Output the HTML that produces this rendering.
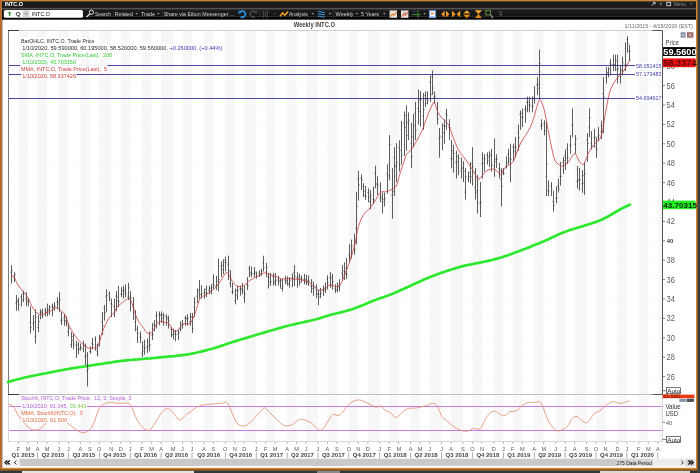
<!DOCTYPE html>
<html><head><meta charset="utf-8"><title>INTC.O Weekly</title>
<style>
html,body{margin:0;padding:0;width:700px;height:473px;overflow:hidden;background:#2f3a37;}
svg{display:block;position:absolute;left:0;top:0}
text{font-family:'Liberation Sans',Arial,sans-serif;}
</style></head><body>
<svg width="700" height="473" viewBox="0 0 700 473">
<rect x="0" y="0" width="700" height="473" fill="#2f3a37"/>
<rect x="697.3" y="0" width="0.8" height="473" fill="#6a5050"/>
<rect x="699.4" y="0" width="0.6" height="473" fill="#4a4a48"/>
<rect x="22" y="470.6" width="172" height="2.4" fill="#e8e4dc"/>
<rect x="317" y="470.6" width="23" height="2.4" fill="#8a8a8a"/>
<rect x="600" y="470.6" width="90" height="2.4" fill="#dedad0"/>
<rect x="0" y="0" width="697.3" height="470.6" fill="#d4862c"/>
<rect x="0" y="0" width="1.8" height="470.6" fill="#b66c30"/>
<rect x="0" y="469.4" width="697.3" height="1.2" fill="#6a4a2a"/>
<rect x="2" y="1.2" width="694" height="466.6" fill="#ffffff"/>
<rect x="2" y="1.2" width="0.8" height="466.6" fill="#b0b0b0"/>
<rect x="2" y="1.2" width="694" height="7" fill="#1d1d1d"/>
<defs><linearGradient id="tbg" x1="0" y1="0" x2="0" y2="1"><stop offset="0" stop-color="#1e1e1e"/><stop offset="1" stop-color="#141414"/></linearGradient></defs>
<rect x="2" y="8.2" width="694" height="0.9" fill="#353535"/>
<rect x="2" y="9.1" width="694" height="7.1" fill="url(#tbg)"/>
<rect x="2" y="16.2" width="694" height="3.5" fill="#020202"/>
<text x="4.65" y="6.33" font-size="6.2" fill="#ffffff" font-weight="bold" textLength="18.35" lengthAdjust="spacingAndGlyphs" >INTC.O</text>
<path d="M651.8 5.6 L655 2.4 M652.8 2.4 H655 V4.6" stroke="#d8d8d8" stroke-width="0.9" fill="none"/>
<path d="M660.8 2.4 v3.2 M659.6 3.8 h2.4" stroke="#8a8a8a" stroke-width="0.8" fill="none"/>
<rect x="666.8" y="2.3" width="3.8" height="3.4" fill="none" stroke="#d8d8d8" stroke-width="0.9"/>
<text x="673.70" y="5.69" font-size="5.8" fill="#8c8c8c" textLength="12.30" lengthAdjust="spacingAndGlyphs" >Menu</text>
<path d="M689.6 3.2 h2.8 l-1.4 1.4z" fill="#8c8c8c"/>
<rect x="3.9" y="9.9" width="79" height="7.9" rx="1.6" fill="#ffffff"/>
<path d="M9.6 11.2 l1.7 2.1 h-1 v2.5 h-1.4 v-2.5 h-1z" fill="#1f8a22"/>
<text x="15.40" y="16.13" font-size="6.2" fill="#444" font-weight="bold" textLength="5.20" lengthAdjust="spacingAndGlyphs" >Q</text>
<rect x="22.6" y="9.9" width="0.7" height="7.9" fill="#c8d4dc"/>
<rect x="23.3" y="10.3" width="5.4" height="7.2" fill="#d0d0d0"/>
<path d="M24.8 13.4 h2.4 l-1.2 1.2z" fill="#444"/>
<rect x="28.7" y="10.3" width="0.5" height="7.2" fill="#bbbbbb"/>
<text x="31.70" y="16.13" font-size="6.2" fill="#111" textLength="18.30" lengthAdjust="spacingAndGlyphs" >INTC.O</text>
<circle cx="91.4" cy="12.3" r="2.1" fill="none" stroke="#e0e0e0" stroke-width="1"/>
<path d="M89.8 13.9 L86.6 16.9" stroke="#e0e0e0" stroke-width="1.4"/>
<text x="94.90" y="15.76" font-size="6" fill="#d4d4d4" textLength="16.00" lengthAdjust="spacingAndGlyphs" >Search</text>
<text x="114.70" y="15.76" font-size="6" fill="#d4d4d4" textLength="18.30" lengthAdjust="spacingAndGlyphs" >Related</text>
<text x="141.00" y="15.76" font-size="6" fill="#d4d4d4" textLength="14.00" lengthAdjust="spacingAndGlyphs" >Trade</text>
<text x="163.70" y="15.76" font-size="6" fill="#d4d4d4" textLength="70.60" lengthAdjust="spacingAndGlyphs" >Share via Eikon Messenger ...</text>
<text x="289.00" y="15.76" font-size="6" fill="#d4d4d4" textLength="18.70" lengthAdjust="spacingAndGlyphs" >Analysis</text>
<text x="335.60" y="15.76" font-size="6" fill="#d4d4d4" textLength="17.80" lengthAdjust="spacingAndGlyphs" >Weekly</text>
<text x="361.00" y="15.76" font-size="6" fill="#d4d4d4" textLength="18.00" lengthAdjust="spacingAndGlyphs" >5 Years</text>
<path d="M135.5 13.2 h2.4 l-1.2 1.2z" fill="#cfcfcf"/>
<path d="M157.2 13.2 h2.4 l-1.2 1.2z" fill="#cfcfcf"/>
<path d="M311.5 13.2 h2.4 l-1.2 1.2z" fill="#cfcfcf"/>
<path d="M328.8 13.2 h2.4 l-1.2 1.2z" fill="#cfcfcf"/>
<path d="M355.7 13.2 h2.4 l-1.2 1.2z" fill="#cfcfcf"/>
<path d="M383.1 13.2 h2.4 l-1.2 1.2z" fill="#cfcfcf"/>
<path d="M423.4 13.2 h2.4 l-1.2 1.2z" fill="#cfcfcf"/>
<path d="M273.4 13.2 h2.4 l-1.2 1.2z" fill="#555"/>
<rect x="113.6" y="10.2" width="0.6" height="7.4" fill="#3a3a3a"/>
<rect x="162.2" y="10.2" width="0.6" height="7.4" fill="#3a3a3a"/>
<rect x="259.7" y="10.2" width="0.6" height="7.4" fill="#3a3a3a"/>
<rect x="333.3" y="10.2" width="0.6" height="7.4" fill="#3a3a3a"/>
<path d="M240 12.3 a3 3 0 1 1 0.6 4.2" stroke="#2a8ee0" stroke-width="1.7" fill="none"/><path d="M238.4 10.4 l0.3 3.6 l3.2 -1.4z" fill="#2a8ee0"/>
<path d="M255.6 12.3 a3 3 0 1 0 -0.6 4.2" stroke="#474747" stroke-width="1.7" fill="none"/><path d="M257.2 10.4 l-0.3 3.6 l-3.2 -1.4z" fill="#474747"/>
<path d="M264.2 11 h-0.9 v6.2 h0.9 M266.4 11 h0.9 v6.2 h-0.9 M265.3 12 v4.2" stroke="#5c5c5c" stroke-width="0.8" fill="none"/>
<path d="M280 16.2 l2.6 -3.2 l2.2 2.2 l3.4 -3.6" stroke="#f5a020" stroke-width="1.6" fill="none"/>
<path d="M318 12 q1.7 -1.3 3.4 0 t3.4 0 M318 14.3 q1.7 -1.3 3.4 0 t3.4 0 M318 16.6 q1.7 -1.3 3.4 0 t3.4 0" stroke="#40a8f0" stroke-width="1" fill="none"/>
<rect x="389.6" y="10.4" width="7.4" height="7.4" fill="#e8e2dc"/><path d="M390.4 16.6 l2 -2.6 l1.6 1.3 l2.4 -3.2" stroke="#e87a18" stroke-width="1.1" fill="none"/>
<rect x="401" y="10.4" width="7.4" height="7.4" fill="#ece0dc"/><path d="M401.8 16.6 l2 -2.6 l1.6 1.3 l2.4 -3.2" stroke="#d85a38" stroke-width="1.1" fill="none"/><path d="M403.6 11.6 l3.2 3.2" stroke="#7a7a7a" stroke-width="0.9"/>
<path d="M417.9 10.2 v7.8 M412 14.6 h8.6" stroke="#3e9a2e" stroke-width="0.9" fill="none"/><circle cx="414.2" cy="11.4" r="0.8" fill="#3a5a9a"/>
<rect x="429" y="10.3" width="7" height="7.7" fill="#f4f8ff"/><path d="M429.4 10.7 h6.2 v6.9 h-6.2z" stroke="#3a78d0" stroke-width="0.8" fill="none"/><path d="M430.6 13.6 l1.6 -1.3 v0.8 h2 v1 h-2 v0.8z" fill="#f07820"/><path d="M430.3 16.6 h4.4" stroke="#9ab4e0" stroke-width="0.8"/>
<defs><linearGradient id="og" x1="0" y1="0" x2="0" y2="1"><stop offset="0" stop-color="#ffb43c"/><stop offset="1" stop-color="#e07808"/></linearGradient></defs>
<path d="M441.2 14.2 l3.4 -3.4 v6.8z M449.4 14.2 l-3.4 -3.4 v6.8z" fill="url(#og)"/>
<path d="M452 10.8 l3.6 3.4 l-3.6 3.4z M460.2 10.8 l-3.6 3.4 l3.6 3.4z" fill="url(#og)"/>
<path d="M466.8 10.2 l3.5 3.4 h-7z M466.8 18.2 l3.5 -3.4 h-7z" fill="url(#og)"/>
<path d="M474.9 10.3 h7 l-3.5 3.9z M474.9 18 h7 l-3.5 -3.9z" fill="url(#og)"/>
<rect x="485.8" y="10.6" width="4.8" height="4.4" fill="none" stroke="#6e9a3c" stroke-width="0.9"/><path d="M490.2 14.4 l2.6 2.6 l-1.1 0.2 l0.8 1.1" stroke="#c8d0e0" stroke-width="0.8" fill="none"/>
<path d="M499.6 11.6 l1.2 1.2 l1.2 -1.2 M499.6 14 l1.2 1.2 l1.2 -1.2" stroke="#b8b8b8" stroke-width="0.7" fill="none"/>
<rect x="18.5" y="31" width="9.5" height="363" fill="#f7f7f7"/>
<rect x="18.5" y="396" width="9.5" height="45.5" fill="#f7f7f7"/>
<rect x="37.5" y="31" width="9.5" height="363" fill="#f7f7f7"/>
<rect x="37.5" y="396" width="9.5" height="45.5" fill="#f7f7f7"/>
<rect x="58.9" y="31" width="9.5" height="363" fill="#f7f7f7"/>
<rect x="58.9" y="396" width="9.5" height="45.5" fill="#f7f7f7"/>
<rect x="80.3" y="31" width="9.5" height="363" fill="#f7f7f7"/>
<rect x="80.3" y="396" width="9.5" height="45.5" fill="#f7f7f7"/>
<rect x="99.3" y="31" width="11.9" height="363" fill="#f7f7f7"/>
<rect x="99.3" y="396" width="11.9" height="45.5" fill="#f7f7f7"/>
<rect x="120.7" y="31" width="9.5" height="363" fill="#f7f7f7"/>
<rect x="120.7" y="396" width="9.5" height="45.5" fill="#f7f7f7"/>
<rect x="142.1" y="31" width="9.5" height="363" fill="#f7f7f7"/>
<rect x="142.1" y="396" width="9.5" height="45.5" fill="#f7f7f7"/>
<rect x="161.1" y="31" width="11.9" height="363" fill="#f7f7f7"/>
<rect x="161.1" y="396" width="11.9" height="45.5" fill="#f7f7f7"/>
<rect x="182.5" y="31" width="9.5" height="363" fill="#f7f7f7"/>
<rect x="182.5" y="396" width="9.5" height="45.5" fill="#f7f7f7"/>
<rect x="203.9" y="31" width="9.5" height="363" fill="#f7f7f7"/>
<rect x="203.9" y="396" width="9.5" height="45.5" fill="#f7f7f7"/>
<rect x="225.3" y="31" width="9.5" height="363" fill="#f7f7f7"/>
<rect x="225.3" y="396" width="9.5" height="45.5" fill="#f7f7f7"/>
<rect x="244.3" y="31" width="11.9" height="363" fill="#f7f7f7"/>
<rect x="244.3" y="396" width="11.9" height="45.5" fill="#f7f7f7"/>
<rect x="265.7" y="31" width="9.5" height="363" fill="#f7f7f7"/>
<rect x="265.7" y="396" width="9.5" height="45.5" fill="#f7f7f7"/>
<rect x="287.1" y="31" width="9.5" height="363" fill="#f7f7f7"/>
<rect x="287.1" y="396" width="9.5" height="45.5" fill="#f7f7f7"/>
<rect x="306.1" y="31" width="11.9" height="363" fill="#f7f7f7"/>
<rect x="306.1" y="396" width="11.9" height="45.5" fill="#f7f7f7"/>
<rect x="327.5" y="31" width="9.5" height="363" fill="#f7f7f7"/>
<rect x="327.5" y="396" width="9.5" height="45.5" fill="#f7f7f7"/>
<rect x="348.8" y="31" width="9.5" height="363" fill="#f7f7f7"/>
<rect x="348.8" y="396" width="9.5" height="45.5" fill="#f7f7f7"/>
<rect x="367.9" y="31" width="11.9" height="363" fill="#f7f7f7"/>
<rect x="367.9" y="396" width="11.9" height="45.5" fill="#f7f7f7"/>
<rect x="389.2" y="31" width="9.5" height="363" fill="#f7f7f7"/>
<rect x="389.2" y="396" width="9.5" height="45.5" fill="#f7f7f7"/>
<rect x="410.6" y="31" width="9.5" height="363" fill="#f7f7f7"/>
<rect x="410.6" y="396" width="9.5" height="45.5" fill="#f7f7f7"/>
<rect x="429.7" y="31" width="11.9" height="363" fill="#f7f7f7"/>
<rect x="429.7" y="396" width="11.9" height="45.5" fill="#f7f7f7"/>
<rect x="451.0" y="31" width="11.9" height="363" fill="#f7f7f7"/>
<rect x="451.0" y="396" width="11.9" height="45.5" fill="#f7f7f7"/>
<rect x="472.4" y="31" width="9.5" height="363" fill="#f7f7f7"/>
<rect x="472.4" y="396" width="9.5" height="45.5" fill="#f7f7f7"/>
<rect x="493.8" y="31" width="9.5" height="363" fill="#f7f7f7"/>
<rect x="493.8" y="396" width="9.5" height="45.5" fill="#f7f7f7"/>
<rect x="512.8" y="31" width="9.5" height="363" fill="#f7f7f7"/>
<rect x="512.8" y="396" width="9.5" height="45.5" fill="#f7f7f7"/>
<rect x="534.2" y="31" width="9.5" height="363" fill="#f7f7f7"/>
<rect x="534.2" y="396" width="9.5" height="45.5" fill="#f7f7f7"/>
<rect x="555.6" y="31" width="9.5" height="363" fill="#f7f7f7"/>
<rect x="555.6" y="396" width="9.5" height="45.5" fill="#f7f7f7"/>
<rect x="574.6" y="31" width="11.9" height="363" fill="#f7f7f7"/>
<rect x="574.6" y="396" width="11.9" height="45.5" fill="#f7f7f7"/>
<rect x="596.0" y="31" width="9.5" height="363" fill="#f7f7f7"/>
<rect x="596.0" y="396" width="9.5" height="45.5" fill="#f7f7f7"/>
<rect x="617.4" y="31" width="9.5" height="363" fill="#f7f7f7"/>
<rect x="617.4" y="396" width="9.5" height="45.5" fill="#f7f7f7"/>
<rect x="638.8" y="31" width="9.5" height="363" fill="#f7f7f7"/>
<rect x="638.8" y="396" width="9.5" height="45.5" fill="#f7f7f7"/>
<rect x="657.8" y="31" width="4.2" height="363" fill="#f7f7f7"/>
<rect x="657.8" y="396" width="4.2" height="45.5" fill="#f7f7f7"/>
<path d="M9 376.6 H662" stroke="#f0f0f0" stroke-width="0.6" stroke-dasharray="1 1.5"/>
<path d="M9 357.2 H662" stroke="#f0f0f0" stroke-width="0.6" stroke-dasharray="1 1.5"/>
<path d="M9 337.8 H662" stroke="#f0f0f0" stroke-width="0.6" stroke-dasharray="1 1.5"/>
<path d="M9 318.4 H662" stroke="#f0f0f0" stroke-width="0.6" stroke-dasharray="1 1.5"/>
<path d="M9 299.0 H662" stroke="#f0f0f0" stroke-width="0.6" stroke-dasharray="1 1.5"/>
<path d="M9 279.6 H662" stroke="#f0f0f0" stroke-width="0.6" stroke-dasharray="1 1.5"/>
<path d="M9 260.2 H662" stroke="#f0f0f0" stroke-width="0.6" stroke-dasharray="1 1.5"/>
<path d="M9 240.8 H662" stroke="#f0f0f0" stroke-width="0.6" stroke-dasharray="1 1.5"/>
<path d="M9 221.4 H662" stroke="#f0f0f0" stroke-width="0.6" stroke-dasharray="1 1.5"/>
<path d="M9 202.0 H662" stroke="#f0f0f0" stroke-width="0.6" stroke-dasharray="1 1.5"/>
<path d="M9 182.6 H662" stroke="#f0f0f0" stroke-width="0.6" stroke-dasharray="1 1.5"/>
<path d="M9 163.2 H662" stroke="#f0f0f0" stroke-width="0.6" stroke-dasharray="1 1.5"/>
<path d="M9 143.8 H662" stroke="#f0f0f0" stroke-width="0.6" stroke-dasharray="1 1.5"/>
<path d="M9 124.4 H662" stroke="#f0f0f0" stroke-width="0.6" stroke-dasharray="1 1.5"/>
<path d="M9 105.0 H662" stroke="#f0f0f0" stroke-width="0.6" stroke-dasharray="1 1.5"/>
<path d="M9 85.6 H662" stroke="#f0f0f0" stroke-width="0.6" stroke-dasharray="1 1.5"/>
<path d="M9 66.2 H662" stroke="#f0f0f0" stroke-width="0.6" stroke-dasharray="1 1.5"/>
<path d="M8.5 30.5 H662.5" stroke="#cfcfcf" stroke-width="1" fill="none"/><path d="M8.5 394.5 H662.5" stroke="#bdbdbd" stroke-width="1" fill="none"/>
<path d="M8.5 30 V395" stroke="#7a7a7a" stroke-width="1"/>
<path d="M8 30.5 H19 M8 394.5 H19" stroke="#3a3a3a" stroke-width="1"/>
<path d="M652.5 30.5 H662.5 V394.5 M652.5 394.5 H662.5" stroke="#555" stroke-width="1" fill="none"/>
<path d="M8.5 441.5 H662.5 M8.5 395 V442 M662.5 395 V442" stroke="#d6d6d6" stroke-width="1" fill="none"/>
<rect x="9" y="65" width="653" height="1" fill="#4848a8"/>
<rect x="9" y="74" width="653" height="1" fill="#4848a8"/>
<rect x="9" y="98" width="653" height="1" fill="#4848a8"/>
<polyline points="8.0,382.0 10.0,381.4 12.0,380.9 14.0,380.3 16.0,379.8 18.0,379.2 20.0,378.7 22.0,378.2 24.0,377.7 26.0,377.3 28.0,376.9 30.0,376.4 32.0,376.0 34.0,375.6 36.0,375.2 38.0,374.8 40.0,374.4 42.0,374.0 44.0,373.7 46.0,373.3 48.0,372.9 50.0,372.5 52.0,372.1 54.0,371.7 56.0,371.3 58.0,370.9 60.0,370.4 62.0,370.1 64.0,369.7 66.0,369.3 68.0,369.0 70.0,368.6 72.0,368.3 74.0,368.0 76.0,367.7 78.0,367.4 80.0,367.0 82.0,366.8 84.0,366.5 86.0,366.2 88.0,365.9 90.0,365.6 92.0,365.3 94.0,365.0 96.0,364.7 98.0,364.4 100.0,364.1 102.0,363.8 104.0,363.5 106.0,363.2 108.0,362.9 110.0,362.6 112.0,362.3 114.0,361.9 116.0,361.6 118.0,361.3 120.0,361.0 122.0,360.8 124.0,360.6 126.0,360.4 128.0,360.2 130.0,360.0 132.0,359.9 134.0,359.7 136.0,359.5 138.0,359.4 140.0,359.2 142.0,359.0 144.0,358.9 146.0,358.7 148.0,358.5 150.0,358.4 152.0,358.2 154.0,358.0 156.0,357.8 158.0,357.6 160.0,357.4 162.0,357.2 164.0,357.0 166.0,356.8 168.0,356.6 170.0,356.4 172.0,356.3 174.0,356.1 176.0,355.9 178.0,355.6 180.0,355.4 182.0,355.2 184.0,354.9 186.0,354.6 188.0,354.3 190.0,354.0 192.0,353.6 194.0,353.2 196.0,352.8 198.0,352.3 200.0,351.9 202.0,351.4 204.0,350.9 206.0,350.4 208.0,349.8 210.0,349.3 212.0,348.7 214.0,348.2 216.0,347.6 218.0,346.9 220.0,346.3 222.0,345.6 224.0,345.0 226.0,344.3 228.0,343.6 230.0,342.9 232.0,342.3 234.0,341.6 236.0,341.0 238.0,340.4 240.0,339.8 242.0,339.2 244.0,338.6 246.0,338.0 248.0,337.4 250.0,336.8 252.0,336.2 254.0,335.6 256.0,334.9 258.0,334.3 260.0,333.8 262.0,333.2 264.0,332.6 266.0,332.0 268.0,331.4 270.0,330.8 272.0,330.2 274.0,329.7 276.0,329.1 278.0,328.5 280.0,327.9 282.0,327.4 284.0,326.8 286.0,326.3 288.0,325.8 290.0,325.3 292.0,324.8 294.0,324.4 296.0,323.9 298.0,323.4 300.0,323.0 302.0,322.5 304.0,322.1 306.0,321.6 308.0,321.1 310.0,320.7 312.0,320.2 314.0,319.8 316.0,319.3 318.0,318.7 320.0,318.1 322.0,317.5 324.0,316.8 326.0,316.2 328.0,315.6 330.0,315.0 332.0,314.5 334.0,314.0 336.0,313.5 338.0,313.0 340.0,312.6 342.0,312.1 344.0,311.5 346.0,311.0 348.0,310.4 350.0,309.9 352.0,309.2 354.0,308.6 356.0,307.8 358.0,307.1 360.0,306.3 362.0,305.5 364.0,304.7 366.0,303.8 368.0,302.9 370.0,302.1 372.0,301.3 374.0,300.5 376.0,299.8 378.0,299.0 380.0,298.3 382.0,297.6 384.0,297.0 386.0,296.2 388.0,295.5 390.0,294.7 392.0,294.0 394.0,293.2 396.0,292.3 398.0,291.4 400.0,290.5 402.0,289.6 404.0,288.7 406.0,287.8 408.0,286.9 410.0,286.0 412.0,285.0 414.0,284.1 416.0,283.2 418.0,282.3 420.0,281.4 422.0,280.5 424.0,279.6 426.0,278.7 428.0,277.9 430.0,277.0 432.0,276.2 434.0,275.5 436.0,274.7 438.0,274.0 440.0,273.3 442.0,272.6 444.0,272.0 446.0,271.3 448.0,270.6 450.0,270.0 452.0,269.3 454.0,268.7 456.0,268.1 458.0,267.5 460.0,266.9 462.0,266.4 464.0,265.9 466.0,265.4 468.0,265.0 470.0,264.6 472.0,264.2 474.0,263.8 476.0,263.4 478.0,263.0 480.0,262.6 482.0,262.2 484.0,261.8 486.0,261.3 488.0,260.9 490.0,260.4 492.0,260.0 494.0,259.4 496.0,258.9 498.0,258.4 500.0,257.8 502.0,257.2 504.0,256.5 506.0,255.9 508.0,255.2 510.0,254.5 512.0,253.8 514.0,253.1 516.0,252.3 518.0,251.6 520.0,250.8 522.0,250.0 524.0,249.2 526.0,248.5 528.0,247.7 530.0,246.9 532.0,246.1 534.0,245.3 536.0,244.5 538.0,243.7 540.0,242.8 542.0,242.0 544.0,241.2 546.0,240.3 548.0,239.4 550.0,238.5 552.0,237.5 554.0,236.6 556.0,235.6 558.0,234.7 560.0,233.8 562.0,233.0 564.0,232.2 566.0,231.4 568.0,230.7 570.0,230.0 572.0,229.4 574.0,228.8 576.0,228.2 578.0,227.6 580.0,227.0 582.0,226.4 584.0,225.8 586.0,225.1 588.0,224.5 590.0,223.9 592.0,223.2 594.0,222.6 596.0,221.9 598.0,221.1 600.0,220.3 602.0,219.5 604.0,218.5 606.0,217.5 608.0,216.5 610.0,215.3 612.0,214.2 614.0,213.0 616.0,211.8 618.0,210.7 620.0,209.5 622.0,208.4 624.0,207.4 626.0,206.5 628.0,205.6 630.0,204.7 630.0,204.7" fill="none" stroke="#2ee82e" stroke-width="2.7" stroke-linejoin="round" stroke-linecap="round"/>
<path d="M11.5 265.0V283.6M10.5 272.3h1M11.5 270.4h1M14.5 272.1V282.1M13.5 278.0h1M14.5 274.6h1M16.5 295.0V310.7M15.5 303.2h1M16.5 301.6h1M18.5 297.9V310.7M17.5 300.9h1M18.5 304.3h1M21.5 294.2V306.4M20.5 296.9h1M21.5 299.8h1M23.5 290.7V302.1M22.5 293.5h1M23.5 293.6h1M26.5 292.1V306.4M25.5 298.6h1M26.5 302.1h1M28.5 297.9V306.4M27.5 300.2h1M28.5 300.7h1M30.5 306.4V333.6M29.5 322.1h1M30.5 327.3h1M33.5 315.0V330.7M32.5 323.6h1M33.5 321.9h1M35.5 309.3V343.6M34.5 336.2h1M35.5 317.1h1M38.5 315.0V332.1M37.5 327.3h1M38.5 321.4h1M40.5 309.3V319.3M39.5 312.2h1M40.5 312.0h1M42.5 308.6V317.9M41.5 312.2h1M42.5 315.0h1M45.5 307.9V316.4M44.5 310.5h1M45.5 312.6h1M47.5 303.6V316.4M46.5 311.1h1M47.5 309.0h1M49.5 305.0V315.0M48.5 310.3h1M49.5 307.4h1M52.5 303.6V316.4M51.5 306.6h1M52.5 307.7h1M54.5 302.1V310.7M53.5 307.4h1M54.5 306.1h1M57.5 297.3V309.3M56.5 302.0h1M57.5 303.9h1M59.5 292.1V312.1M58.5 301.6h1M59.5 299.7h1M61.5 312.1V325.0M60.5 320.8h1M61.5 320.1h1M64.5 314.2V325.7M63.5 318.2h1M64.5 320.5h1M66.5 316.4V326.4M65.5 321.6h1M66.5 323.7h1M68.5 323.6V336.4M67.5 331.8h1M68.5 328.4h1M71.5 332.1V347.9M70.5 344.5h1M71.5 336.4h1M73.5 333.6V349.3M72.5 340.7h1M73.5 343.9h1M76.5 340.7V357.9M75.5 345.7h1M76.5 349.2h1M78.5 342.1V354.5M77.5 344.8h1M78.5 349.5h1M80.5 343.6V350.7M79.5 348.3h1M80.5 347.5h1M83.5 340.7V352.1M82.5 349.0h1M83.5 345.2h1M85.5 343.6V365.0M84.5 356.8h1M85.5 355.5h1M87.5 352.1V386.4M86.5 370.9h1M87.5 368.4h1M90.5 346.4V353.6M89.5 351.5h1M90.5 351.9h1M92.5 337.9V349.3M91.5 343.4h1M92.5 344.7h1M95.5 336.4V350.7M94.5 339.8h1M95.5 345.3h1M97.5 343.6V356.4M96.5 351.1h1M97.5 353.8h1M99.5 335.0V346.4M98.5 342.9h1M99.5 339.2h1M102.5 312.1V335.0M101.5 322.0h1M102.5 325.9h1M104.5 305.0V320.7M103.5 308.4h1M104.5 312.5h1M106.5 289.3V312.1M105.5 296.2h1M106.5 295.5h1M109.5 291.4V301.4M108.5 293.8h1M109.5 298.0h1M111.5 298.6V317.1M110.5 303.7h1M111.5 305.0h1M114.5 298.6V317.1M113.5 306.6h1M114.5 312.0h1M116.5 291.1V311.4M115.5 296.1h1M116.5 300.6h1M118.5 285.7V307.1M117.5 297.1h1M118.5 301.4h1M121.5 287.1V297.1M120.5 294.1h1M121.5 294.3h1M123.5 285.7V298.6M122.5 290.4h1M123.5 291.5h1M125.5 284.3V297.1M124.5 289.6h1M125.5 293.7h1M128.5 282.9V300.0M127.5 296.1h1M128.5 287.8h1M130.5 291.0V311.4M129.5 297.2h1M130.5 297.9h1M133.5 297.1V320.0M132.5 304.9h1M133.5 308.4h1M135.5 310.0V331.4M134.5 321.9h1M135.5 317.7h1M137.5 325.7V342.9M136.5 329.2h1M137.5 333.5h1M140.5 331.4V342.9M139.5 336.2h1M140.5 337.6h1M142.5 341.4V357.1M141.5 353.6h1M142.5 351.1h1M144.5 339.8V354.7M143.5 347.4h1M144.5 348.3h1M147.5 338.6V352.9M146.5 347.2h1M147.5 341.9h1M149.5 331.4V351.4M148.5 346.2h1M149.5 344.8h1M152.5 322.9V340.0M151.5 335.3h1M152.5 334.5h1M154.5 320.0V331.4M153.5 325.0h1M154.5 325.0h1M156.5 311.4V328.6M155.5 315.9h1M156.5 321.4h1M159.5 311.4V325.4M158.5 314.7h1M159.5 314.8h1M161.5 311.4V322.9M160.5 315.1h1M161.5 314.8h1M163.5 312.9V325.7M162.5 318.1h1M163.5 315.8h1M166.5 314.3V325.7M165.5 316.6h1M166.5 317.6h1M168.5 315.7V328.6M167.5 319.1h1M168.5 321.1h1M171.5 327.1V337.1M170.5 329.3h1M171.5 334.4h1M173.5 328.7V339.5M172.5 334.8h1M173.5 331.8h1M175.5 330.0V341.4M174.5 334.0h1M175.5 334.7h1M178.5 330.0V340.0M177.5 334.2h1M178.5 332.7h1M180.5 321.4V331.4M179.5 328.5h1M180.5 329.4h1M182.5 320.0V328.6M181.5 324.1h1M182.5 324.2h1M185.5 315.7V325.7M184.5 318.2h1M185.5 318.3h1M187.5 314.2V325.7M186.5 318.9h1M187.5 318.3h1M190.5 312.9V325.7M189.5 321.8h1M190.5 316.7h1M192.5 312.9V332.9M191.5 317.1h1M192.5 328.3h1M194.5 297.1V317.1M193.5 307.5h1M194.5 302.9h1M197.5 288.6V302.9M196.5 296.1h1M197.5 291.7h1M199.5 280.0V298.6M198.5 289.6h1M199.5 294.6h1M201.5 285.2V298.6M200.5 294.8h1M201.5 293.4h1M204.5 288.6V298.6M203.5 292.1h1M204.5 292.8h1M206.5 285.7V297.1M205.5 289.1h1M206.5 293.3h1M209.5 285.7V294.3M208.5 290.2h1M209.5 291.4h1M211.5 284.3V294.3M210.5 288.3h1M211.5 287.6h1M213.5 274.3V288.6M212.5 284.1h1M213.5 285.6h1M216.5 275.8V290.0M215.5 285.9h1M216.5 285.5h1M218.5 258.6V291.4M217.5 281.3h1M218.5 279.7h1M221.5 261.4V277.1M220.5 266.7h1M221.5 269.5h1M223.5 259.2V274.2M222.5 265.4h1M223.5 262.5h1M225.5 257.1V271.4M224.5 260.2h1M225.5 262.4h1M228.5 255.7V280.0M227.5 264.3h1M228.5 270.7h1M230.5 270.2V287.2M229.5 283.4h1M230.5 278.2h1M232.5 282.9V294.3M231.5 291.6h1M232.5 291.9h1M235.5 288.6V304.3M234.5 300.7h1M235.5 295.2h1M237.5 285.7V300.0M236.5 290.5h1M237.5 290.5h1M240.5 285.7V295.7M239.5 288.9h1M240.5 288.9h1M242.5 282.9V294.3M241.5 289.4h1M242.5 291.3h1M244.5 285.7V302.9M243.5 297.8h1M244.5 294.1h1M247.5 277.1V290.0M246.5 284.8h1M247.5 285.9h1M249.5 265.7V277.1M248.5 268.6h1M249.5 272.5h1M251.5 266.4V277.1M250.5 274.4h1M251.5 273.6h1M254.5 267.1V277.1M253.5 273.6h1M254.5 272.0h1M256.5 271.4V278.6M255.5 273.6h1M256.5 276.2h1M259.5 270.0V277.1M258.5 272.9h1M259.5 274.9h1M261.5 268.6V275.7M260.5 274.2h1M261.5 271.7h1M263.5 255.7V271.4M262.5 262.6h1M263.5 267.8h1M266.5 262.9V277.1M265.5 271.9h1M266.5 267.2h1M268.5 272.9V288.6M267.5 277.2h1M268.5 277.4h1M270.5 272.9V285.7M269.5 282.4h1M270.5 281.7h1M273.5 272.9V285.7M272.5 276.6h1M273.5 281.8h1M275.5 272.9V285.7M274.5 283.0h1M275.5 280.5h1M278.5 275.7V285.7M277.5 279.8h1M278.5 281.0h1M280.5 278.6V288.6M279.5 281.4h1M280.5 280.7h1M282.5 278.6V291.4M281.5 288.6h1M282.5 286.2h1M285.5 275.7V284.3M284.5 280.1h1M285.5 282.2h1M287.5 276.4V285.6M286.5 280.6h1M287.5 283.1h1M289.5 277.1V287.8M288.5 284.5h1M289.5 280.6h1M292.5 273.4V287.2M291.5 278.2h1M292.5 278.6h1M294.5 265.1V286.0M293.5 272.3h1M294.5 276.7h1M297.5 272.1V287.8M296.5 277.7h1M297.5 279.2h1M299.5 273.6V285.5M298.5 276.9h1M299.5 282.5h1M301.5 275.6V282.5M300.5 278.4h1M301.5 278.9h1M304.5 273.8V284.3M303.5 279.6h1M304.5 281.6h1M306.5 274.7V285.1M305.5 279.4h1M306.5 282.5h1M308.5 275.6V286.0M307.5 280.8h1M308.5 281.0h1M311.5 279.1V293.0M310.5 286.2h1M311.5 282.0h1M313.5 281.8V295.8M312.5 288.3h1M313.5 286.1h1M316.5 284.3V298.2M315.5 287.1h1M316.5 293.8h1M318.5 289.5V305.2M317.5 294.3h1M318.5 297.1h1M320.5 287.8V298.2M319.5 294.4h1M320.5 293.4h1M323.5 285.4V295.9M322.5 289.5h1M323.5 290.7h1M325.5 282.5V293.0M324.5 288.1h1M325.5 289.6h1M327.5 275.4V289.4M326.5 279.1h1M327.5 282.9h1M330.5 272.1V287.8M329.5 277.6h1M330.5 277.8h1M332.5 273.8V289.5M331.5 284.2h1M332.5 281.7h1M335.5 284.3V293.0M334.5 289.0h1M335.5 290.0h1M337.5 282.5V292.4M336.5 289.9h1M337.5 287.1h1M339.5 279.1V291.3M338.5 286.0h1M339.5 285.2h1M342.5 265.1V280.8M341.5 273.1h1M342.5 274.8h1M344.5 262.3V280.1M343.5 270.7h1M344.5 271.6h1M346.5 258.1V279.1M345.5 268.3h1M346.5 274.1h1M349.5 244.2V261.6M348.5 255.0h1M349.5 256.8h1M351.5 239.6V258.5M350.5 254.1h1M351.5 246.3h1M354.5 233.7V254.6M353.5 244.9h1M354.5 249.7h1M356.5 191.9V244.2M355.5 228.7h1M356.5 206.6h1M358.5 170.9V200.6M357.5 179.0h1M358.5 184.7h1M361.5 174.4V190.1M360.5 178.2h1M361.5 179.8h1M363.5 183.1V197.1M362.5 186.5h1M363.5 191.5h1M365.5 185.9V199.9M364.5 195.3h1M365.5 196.2h1M368.5 188.4V202.3M367.5 192.5h1M368.5 197.2h1M370.5 190.1V209.3M369.5 201.5h1M370.5 195.6h1M373.5 186.6V204.1M372.5 199.3h1M373.5 200.2h1M375.5 165.7V188.4M374.5 173.2h1M375.5 183.2h1M377.5 176.2V195.3M376.5 184.6h1M377.5 185.6h1M380.5 182.3V202.2M379.5 198.1h1M380.5 196.2h1M382.5 192.5V213.5M381.5 198.8h1M382.5 202.1h1M384.5 192.5V206.5M383.5 199.6h1M384.5 198.2h1M387.5 164.4V193.7M386.5 173.7h1M387.5 175.8h1M389.5 135.0V180.3M388.5 163.7h1M389.5 144.6h1M392.5 168.1V218.7M391.5 195.1h1M392.5 191.6h1M394.5 147.2V196.0M393.5 157.5h1M394.5 166.7h1M396.5 143.2V182.1M395.5 165.5h1M396.5 162.9h1M399.5 140.2V171.6M398.5 147.7h1M399.5 165.1h1M401.5 121.0V164.6M400.5 150.4h1M401.5 155.2h1M404.5 111.4V156.0M403.5 123.1h1M404.5 127.4h1M406.5 105.3V150.7M405.5 115.5h1M406.5 135.6h1M408.5 112.3V140.2M407.5 122.4h1M408.5 120.1h1M411.5 122.8V168.1M410.5 143.3h1M411.5 156.6h1M413.5 114.1V147.2M412.5 137.0h1M413.5 125.8h1M415.5 101.9V140.2M414.5 113.0h1M415.5 130.7h1M418.5 89.6V124.5M417.5 108.6h1M418.5 111.3h1M420.5 91.0V126.6M419.5 100.0h1M420.5 99.4h1M423.5 93.1V129.8M422.5 115.6h1M423.5 109.8h1M425.5 91.4V107.1M424.5 95.2h1M425.5 103.4h1M427.5 91.4V104.2M426.5 98.8h1M427.5 100.1h1M430.5 75.7V101.9M429.5 82.2h1M430.5 94.4h1M432.5 70.5V94.9M431.5 76.3h1M432.5 88.0h1M434.5 91.4V103.6M433.5 97.2h1M434.5 96.3h1M437.5 101.9V124.5M436.5 113.9h1M437.5 119.0h1M439.5 128.0V157.7M438.5 138.7h1M439.5 136.2h1M442.5 123.4V150.3M441.5 137.3h1M442.5 132.6h1M444.5 119.3V143.7M443.5 125.8h1M444.5 126.5h1M446.5 108.8V129.8M445.5 113.6h1M446.5 115.6h1M449.5 119.3V140.2M448.5 127.4h1M449.5 127.3h1M451.5 140.2V168.1M450.5 158.5h1M451.5 150.7h1M453.5 144.8V172.7M452.5 158.8h1M453.5 153.4h1M456.5 150.7V178.6M455.5 162.1h1M456.5 156.6h1M458.5 154.2V175.1M457.5 161.5h1M458.5 158.6h1M461.5 157.6V178.5M460.5 171.0h1M461.5 168.7h1M463.5 161.2V182.1M462.5 167.7h1M463.5 171.3h1M465.5 168.1V199.5M464.5 192.0h1M465.5 176.4h1M468.5 171.6V182.1M467.5 178.8h1M468.5 176.4h1M470.5 161.8V183.5M469.5 172.6h1M470.5 177.0h1M472.5 147.2V185.6M471.5 163.9h1M472.5 166.5h1M475.5 168.1V199.5M474.5 187.4h1M475.5 192.9h1M477.5 175.1V213.5M476.5 190.7h1M477.5 201.9h1M480.5 182.1V217.0M479.5 203.8h1M480.5 202.4h1M482.5 152.4V178.6M481.5 164.0h1M482.5 163.1h1M484.5 154.2V171.6M483.5 158.2h1M484.5 159.0h1M487.5 152.4V164.6M486.5 155.4h1M487.5 160.3h1M489.5 151.2V167.0M488.5 156.8h1M489.5 155.9h1M491.5 148.9V171.6M490.5 154.6h1M491.5 164.9h1M494.5 138.5V176.8M493.5 166.2h1M494.5 161.6h1M496.5 154.2V168.1M495.5 159.3h1M496.5 159.0h1M499.5 162.9V178.6M498.5 168.8h1M499.5 170.4h1M501.5 168.1V206.5M500.5 179.4h1M501.5 186.1h1M503.5 168.1V175.1M502.5 170.6h1M503.5 173.5h1M506.5 156.3V168.6M505.5 166.0h1M506.5 162.8h1M508.5 148.9V164.6M507.5 154.4h1M508.5 161.2h1M510.5 143.7V182.1M509.5 158.5h1M510.5 159.6h1M513.5 143.7V161.2M512.5 147.2h1M513.5 151.2h1M515.5 137.1V157.5M514.5 147.0h1M515.5 147.4h1M518.5 124.5V150.7M517.5 132.9h1M518.5 137.7h1M520.5 110.6V129.8M519.5 114.5h1M520.5 117.5h1M522.5 108.5V127.0M521.5 113.2h1M522.5 116.7h1M525.5 105.3V122.8M524.5 109.3h1M525.5 109.1h1M527.5 96.6V112.3M526.5 102.6h1M527.5 102.0h1M529.5 96.6V112.3M528.5 105.3h1M529.5 104.7h1M532.5 96.6V112.3M531.5 106.8h1M532.5 106.0h1M534.5 86.2V103.6M533.5 97.1h1M534.5 98.8h1M537.5 77.4V94.9M536.5 85.0h1M537.5 84.3h1M539.5 49.5V98.4M538.5 88.2h1M539.5 63.7h1M541.5 119.3V129.8M540.5 125.9h1M541.5 125.4h1M544.5 120.2V135.3M543.5 123.6h1M544.5 130.8h1M546.5 121.0V196.0M545.5 176.2h1M546.5 164.3h1M548.5 180.3V196.0M547.5 190.4h1M548.5 191.1h1M551.5 182.1V196.0M550.5 186.0h1M551.5 189.3h1M553.5 190.8V211.7M552.5 201.3h1M553.5 205.5h1M556.5 186.4V203.3M555.5 197.9h1M556.5 198.1h1M558.5 178.6V192.5M557.5 186.3h1M558.5 188.9h1M560.5 161.9V185.6M559.5 176.3h1M560.5 176.5h1M563.5 156.8V173.8M562.5 162.5h1M563.5 160.5h1M565.5 149.5V170.1M564.5 155.3h1M565.5 158.1h1M567.5 143.4V164.0M566.5 148.8h1M567.5 157.8h1M570.5 135.1V153.7M569.5 145.0h1M570.5 145.8h1M572.5 108.3V137.2M571.5 124.9h1M572.5 125.9h1M575.5 135.1V153.7M574.5 144.3h1M575.5 138.9h1M577.5 166.0V188.7M576.5 181.4h1M577.5 180.7h1M579.5 168.0V190.6M578.5 179.3h1M579.5 179.8h1M582.5 170.1V192.8M581.5 183.7h1M582.5 175.6h1M584.5 161.9V194.9M583.5 183.1h1M584.5 173.5h1M587.5 133.1V161.9M586.5 140.1h1M587.5 143.4h1M589.5 108.3V137.2M588.5 126.7h1M589.5 117.6h1M591.5 131.0V149.5M590.5 142.9h1M591.5 145.6h1M594.5 128.9V147.5M593.5 138.1h1M594.5 136.9h1M596.5 137.2V157.8M595.5 147.2h1M596.5 149.7h1M598.5 126.9V141.3M597.5 136.4h1M598.5 135.1h1M601.5 120.7V139.2M600.5 131.5h1M601.5 125.3h1M603.5 77.4V133.1M602.5 93.5h1M603.5 97.0h1M606.5 67.1V83.6M605.5 77.7h1M606.5 73.4h1M608.5 67.1V77.4M607.5 72.7h1M608.5 69.2h1M610.5 58.9V75.3M609.5 62.8h1M610.5 64.8h1M613.5 54.7V71.2M612.5 64.7h1M613.5 64.9h1M615.5 54.7V71.2M614.5 64.7h1M615.5 60.9h1M617.5 54.7V83.6M616.5 69.4h1M617.5 68.5h1M620.5 65.0V83.6M619.5 73.9h1M620.5 70.1h1M622.5 56.8V75.3M621.5 70.4h1M622.5 62.7h1M625.5 42.4V71.2M624.5 65.1h1M625.5 64.3h1M627.5 36.2V52.7M626.5 39.7h1M627.5 44.0h1M629.5 44.9V61.2M628.5 50.8h1M629.5 51.1h1" stroke="#333" stroke-width="0.8" fill="none"/>
<path d="M10.9 276.4C11.4 276.4 12.5 275.0 13.7 276.4C14.9 277.8 16.3 282.4 18.0 285.0C19.7 287.6 22.0 290.0 23.7 292.1C25.4 294.2 26.3 295.0 28.0 297.9C29.7 300.8 31.8 306.6 33.7 309.3C35.6 312.1 37.5 313.7 39.4 314.4C41.3 315.1 43.2 314.2 45.1 313.6C47.0 313.0 49.0 311.6 50.9 310.7C52.8 309.8 54.9 307.9 56.6 307.9C58.3 307.9 59.5 309.5 60.9 310.7C62.3 311.9 63.7 312.4 65.1 315.0C66.5 317.6 67.5 322.6 69.4 326.4C71.3 330.2 74.4 335.0 76.6 337.9C78.8 340.8 80.4 341.9 82.3 343.6C84.2 345.3 86.1 347.2 88.0 347.9C89.9 348.6 92.0 348.1 93.7 347.9C95.4 347.6 96.6 349.0 98.0 346.4C99.4 343.8 100.5 336.7 102.3 332.1C104.1 327.5 106.8 321.6 108.6 318.6C110.4 315.6 111.5 316.2 112.9 314.3C114.3 312.4 115.7 308.9 117.1 307.1C118.5 305.3 120.0 304.6 121.4 303.4C122.8 302.2 124.5 300.8 125.7 300.0C126.9 299.2 127.6 298.4 128.6 298.6C129.5 298.8 130.4 299.3 131.4 301.4C132.4 303.5 133.1 308.1 134.3 311.4C135.5 314.7 137.2 318.8 138.6 321.4C140.0 324.0 141.5 325.2 142.9 327.1C144.3 329.0 145.7 331.9 147.1 332.9C148.5 333.9 150.0 334.1 151.4 332.9C152.8 331.7 154.3 327.6 155.7 325.7C157.1 323.8 158.6 322.0 160.0 321.4C161.4 320.8 162.9 322.0 164.3 322.3C165.7 322.6 167.2 322.1 168.6 323.4C170.0 324.7 171.5 328.8 172.9 330.0C174.3 331.2 175.7 331.6 177.1 330.9C178.5 330.2 180.0 326.9 181.4 325.7C182.8 324.4 184.3 323.8 185.7 323.4C187.1 323.0 188.6 324.7 190.0 323.4C191.4 322.1 192.6 319.8 194.3 315.7C196.0 311.6 198.3 301.9 200.0 298.6C201.7 295.3 202.9 296.6 204.3 295.7C205.7 294.8 207.2 293.8 208.6 292.9C210.0 291.9 211.5 291.2 212.9 290.0C214.3 288.8 215.7 287.4 217.1 285.7C218.5 284.0 220.0 282.1 221.4 280.0C222.8 277.9 224.5 273.8 225.7 272.9C226.9 271.9 227.6 273.1 228.6 274.3C229.6 275.5 230.2 278.2 231.4 280.0C232.6 281.8 234.3 284.0 235.7 285.1C237.1 286.2 238.6 286.6 240.0 286.6C241.4 286.6 242.9 286.0 244.3 285.1C245.7 284.2 247.2 282.5 248.6 281.4C250.0 280.3 251.2 279.6 252.9 278.6C254.6 277.7 256.7 276.6 258.6 275.7C260.5 274.8 262.6 273.1 264.3 272.9C266.0 272.7 267.2 273.8 268.6 274.3C270.0 274.8 271.5 275.2 272.9 275.7C274.3 276.2 275.7 276.5 277.1 277.1C278.5 277.7 280.0 278.9 281.4 279.1C282.8 279.4 283.6 278.6 285.7 278.6C287.8 278.6 291.4 278.9 293.9 279.1C296.4 279.3 298.6 279.4 300.9 279.8C303.2 280.2 305.9 280.8 307.9 281.8C309.9 282.8 311.4 284.6 313.1 286.0C314.8 287.4 316.6 289.6 318.3 290.2C320.1 290.8 321.9 290.3 323.6 289.5C325.4 288.7 327.1 285.9 328.8 285.3C330.5 284.7 332.3 285.9 334.0 286.0C335.7 286.1 337.4 287.7 339.2 286.0C340.9 284.3 342.8 279.7 344.5 275.6C346.2 271.5 348.0 266.8 349.7 261.6C351.4 256.4 353.4 250.0 354.9 244.2C356.3 238.4 356.9 231.6 358.4 226.7C359.8 221.8 361.9 217.4 363.6 214.5C365.4 211.6 367.1 211.3 368.9 209.3C370.6 207.3 372.2 205.1 374.1 202.3C376.0 199.5 378.6 194.2 380.5 192.5C382.4 190.8 384.0 192.2 385.7 191.8C387.4 191.4 389.2 190.7 390.9 189.8C392.6 188.9 394.7 188.8 396.1 186.3C397.6 183.9 398.3 179.3 399.6 175.1C400.9 170.9 402.9 164.7 404.1 161.2C405.3 157.7 405.3 156.2 406.6 154.2C407.9 152.1 410.1 151.2 411.8 148.9C413.5 146.6 415.2 143.4 417.0 140.2C418.8 137.0 420.6 133.9 422.3 129.8C424.1 125.7 425.9 119.9 427.5 115.8C429.1 111.7 430.8 107.5 432.0 105.3C433.2 103.1 433.5 101.4 434.5 102.6C435.5 103.8 436.4 109.5 437.9 112.3C439.3 115.1 441.4 117.3 443.2 119.3C444.9 121.3 446.7 121.3 448.4 124.5C450.1 127.7 451.9 134.1 453.6 138.5C455.4 142.9 457.1 147.5 458.9 150.7C460.6 153.9 462.2 155.1 464.1 157.7C466.0 160.2 468.4 163.6 470.0 166.0C471.6 168.4 472.7 169.8 474.0 172.0C475.3 174.2 476.7 178.3 478.0 179.0C479.3 179.7 480.7 177.3 482.0 176.0C483.3 174.7 484.7 172.3 486.0 171.2C487.3 170.1 488.7 169.8 490.0 169.5C491.3 169.2 492.7 168.8 494.0 169.2C495.3 169.6 496.8 171.1 498.0 172.0C499.2 172.9 500.0 175.3 501.2 174.6C502.4 173.8 503.5 169.2 505.0 167.5C506.5 165.8 508.7 165.4 510.1 164.3C511.5 163.2 512.3 163.0 513.4 161.0C514.5 159.0 515.7 155.3 516.8 152.5C517.9 149.7 518.8 146.9 520.2 144.1C521.6 141.3 523.6 138.4 525.3 135.6C527.0 132.8 529.0 129.7 530.3 127.2C531.6 124.7 532.0 122.9 532.9 120.4C533.8 117.9 534.6 114.8 535.4 112.0C536.2 109.2 537.2 105.6 537.9 103.5C538.6 101.4 539.0 99.6 539.6 99.3C540.2 99.0 540.6 100.2 541.3 101.8C542.0 103.3 543.0 105.5 543.9 108.6C544.8 111.7 545.6 116.2 546.4 120.4C547.2 124.6 547.9 128.8 548.9 133.9C549.9 139.0 551.3 146.4 552.3 150.8C553.3 155.2 554.0 158.3 555.0 160.5C556.0 162.7 557.0 163.1 558.2 164.0C559.4 164.9 560.7 166.3 562.4 166.0C564.1 165.7 566.5 164.0 568.5 161.9C570.5 159.8 572.8 153.7 574.7 153.7C576.6 153.7 578.2 160.2 579.7 161.9C581.2 163.6 582.2 165.7 583.8 164.0C585.4 162.3 587.3 155.0 589.2 151.6C591.1 148.2 593.2 146.2 595.3 143.4C597.3 140.7 599.8 140.3 601.5 135.1C603.2 129.9 604.2 119.6 605.6 112.4C607.0 105.2 608.1 97.3 609.8 91.8C611.5 86.3 614.0 82.6 616.0 79.5C618.0 76.4 620.1 76.0 622.1 73.3C624.1 70.5 626.9 65.4 628.3 63.0C629.7 60.6 630.0 59.6 630.4 58.9" fill="none" stroke="#c83c3c" stroke-width="0.8"/>
<rect x="635" y="62.7" width="27" height="6" fill="#ffffff"/>
<text x="636.00" y="67.72" font-size="5.6" fill="#3c3cac" textLength="25.60" lengthAdjust="spacingAndGlyphs" >58.051415</text>
<rect x="635" y="71.2" width="27" height="6" fill="#ffffff"/>
<text x="636.00" y="76.23" font-size="5.6" fill="#3c3cac" textLength="25.60" lengthAdjust="spacingAndGlyphs" >57.173483</text>
<rect x="635" y="95.3" width="27" height="6" fill="#ffffff"/>
<text x="636.00" y="100.28" font-size="5.6" fill="#3c3cac" textLength="25.60" lengthAdjust="spacingAndGlyphs" >54.694617</text>
<rect x="20.1" y="37.3" width="74.8" height="7.4" fill="#ffffff"/>
<rect x="21.3" y="44.0" width="201.6" height="7.4" fill="#ffffff"/>
<rect x="20.1" y="51.1" width="92.4" height="7.4" fill="#ffffff"/>
<rect x="21.3" y="57.9" width="55.2" height="7.4" fill="#ffffff"/>
<rect x="20.1" y="65.1" width="87.4" height="7.4" fill="#ffffff"/>
<rect x="21.3" y="72.0" width="55.2" height="7.4" fill="#ffffff"/>
<text x="21.10" y="43.46" font-size="6.0" fill="#2a2a2a" textLength="73.30" lengthAdjust="spacingAndGlyphs" xml:space="preserve"><tspan fill="#2a2a2a">BarOHLC, INTC.O, Trade Price</tspan></text>
<text x="22.30" y="50.16" font-size="6.0" fill="#2a2a2a" textLength="200.10" lengthAdjust="spacingAndGlyphs" xml:space="preserve"><tspan fill="#2a2a2a">1/10/2020, 59.590000, 60.195000, 58.520000, 59.560000, </tspan><tspan fill="#3535b0">+0.260000, (+0.44%)</tspan></text>
<text x="21.10" y="57.26" font-size="6.0" fill="#2a2a2a" textLength="90.90" lengthAdjust="spacingAndGlyphs" xml:space="preserve"><tspan fill="#38c838">SMA, INTC.O, Trade Price(Last),  200</tspan></text>
<text x="22.30" y="64.06" font-size="6.0" fill="#2a2a2a" textLength="53.70" lengthAdjust="spacingAndGlyphs" xml:space="preserve"><tspan fill="#38c838">1/10/2020, 43.703150</tspan></text>
<text x="21.10" y="71.26" font-size="6.0" fill="#2a2a2a" textLength="85.90" lengthAdjust="spacingAndGlyphs" xml:space="preserve"><tspan fill="#cc3838">MMA, INTC.O, Trade Price(Last),  5</tspan></text>
<text x="22.30" y="78.16" font-size="6.0" fill="#2a2a2a" textLength="53.70" lengthAdjust="spacingAndGlyphs" xml:space="preserve"><tspan fill="#cc3838">1/10/2020, 58.337429</tspan></text>
<text x="293.75" y="27.37" font-size="6.3" fill="#3c3c3c" font-weight="bold" textLength="41.25" lengthAdjust="spacingAndGlyphs" >Weekly INTC.O</text>
<text x="624.60" y="28.13" font-size="6.2" fill="#6a6a6a" textLength="68.20" lengthAdjust="spacingAndGlyphs" >1/11/2015 - 4/15/2020 (EST)</text>
<path d="M662.5 376.6 h2.6" stroke="#666" stroke-width="0.8"/>
<text x="666.60" y="379.62" font-size="8.4" fill="#5a5a5a" textLength="8.30" lengthAdjust="spacingAndGlyphs" >26</text>
<path d="M662.5 357.2 h2.6" stroke="#666" stroke-width="0.8"/>
<text x="666.60" y="360.22" font-size="8.4" fill="#5a5a5a" textLength="8.30" lengthAdjust="spacingAndGlyphs" >28</text>
<path d="M662.5 337.8 h2.6" stroke="#666" stroke-width="0.8"/>
<text x="666.60" y="340.82" font-size="8.4" fill="#5a5a5a" textLength="8.30" lengthAdjust="spacingAndGlyphs" >30</text>
<path d="M662.5 318.4 h2.6" stroke="#666" stroke-width="0.8"/>
<text x="666.60" y="321.42" font-size="8.4" fill="#5a5a5a" textLength="8.30" lengthAdjust="spacingAndGlyphs" >32</text>
<path d="M662.5 299.0 h2.6" stroke="#666" stroke-width="0.8"/>
<text x="666.60" y="302.02" font-size="8.4" fill="#5a5a5a" textLength="8.30" lengthAdjust="spacingAndGlyphs" >34</text>
<path d="M662.5 279.6 h2.6" stroke="#666" stroke-width="0.8"/>
<text x="666.60" y="282.62" font-size="8.4" fill="#5a5a5a" textLength="8.30" lengthAdjust="spacingAndGlyphs" >36</text>
<path d="M662.5 260.2 h2.6" stroke="#666" stroke-width="0.8"/>
<text x="666.60" y="263.22" font-size="8.4" fill="#5a5a5a" textLength="8.30" lengthAdjust="spacingAndGlyphs" >38</text>
<path d="M662.5 240.8 h2.6" stroke="#666" stroke-width="0.8"/>
<text x="666.80" y="242.74" font-size="5.4" fill="#333" font-weight="bold" textLength="6.40" lengthAdjust="spacingAndGlyphs" >40</text>
<path d="M662.5 221.4 h2.6" stroke="#666" stroke-width="0.8"/>
<text x="666.60" y="224.42" font-size="8.4" fill="#5a5a5a" textLength="8.30" lengthAdjust="spacingAndGlyphs" >42</text>
<path d="M662.5 202.0 h2.6" stroke="#666" stroke-width="0.8"/>
<text x="666.60" y="205.02" font-size="8.4" fill="#5a5a5a" textLength="8.30" lengthAdjust="spacingAndGlyphs" >44</text>
<path d="M662.5 182.6 h2.6" stroke="#666" stroke-width="0.8"/>
<text x="666.60" y="185.62" font-size="8.4" fill="#5a5a5a" textLength="8.30" lengthAdjust="spacingAndGlyphs" >46</text>
<path d="M662.5 163.2 h2.6" stroke="#666" stroke-width="0.8"/>
<text x="666.60" y="166.22" font-size="8.4" fill="#5a5a5a" textLength="8.30" lengthAdjust="spacingAndGlyphs" >48</text>
<path d="M662.5 143.8 h2.6" stroke="#666" stroke-width="0.8"/>
<text x="666.60" y="146.82" font-size="8.4" fill="#5a5a5a" textLength="8.30" lengthAdjust="spacingAndGlyphs" >50</text>
<path d="M662.5 124.4 h2.6" stroke="#666" stroke-width="0.8"/>
<text x="666.60" y="127.42" font-size="8.4" fill="#5a5a5a" textLength="8.30" lengthAdjust="spacingAndGlyphs" >52</text>
<path d="M662.5 105.0 h2.6" stroke="#666" stroke-width="0.8"/>
<text x="666.60" y="108.02" font-size="8.4" fill="#5a5a5a" textLength="8.30" lengthAdjust="spacingAndGlyphs" >54</text>
<path d="M662.5 85.6 h2.6" stroke="#666" stroke-width="0.8"/>
<text x="666.60" y="88.62" font-size="8.4" fill="#5a5a5a" textLength="8.30" lengthAdjust="spacingAndGlyphs" >56</text>
<path d="M662.5 66.2 h2.6" stroke="#666" stroke-width="0.8"/>
<text x="666.60" y="69.22" font-size="8.4" fill="#5a5a5a" textLength="8.30" lengthAdjust="spacingAndGlyphs" >58</text>
<rect x="680.6" y="32.2" width="5" height="5.5" fill="#8894a6"/><path d="M682 35.2 h2.2" stroke="#fff" stroke-width="0.8"/>
<rect x="687" y="32.2" width="6.4" height="5.5" fill="#9c6262"/><path d="M688.6 33.5 l3.2 3 M691.8 33.5 l-3.2 3" stroke="#eee" stroke-width="0.7"/>
<text x="665.60" y="45.00" font-size="6.4" fill="#444" textLength="13.40" lengthAdjust="spacingAndGlyphs" >Price</text>
<rect x="663" y="47.1" width="32.6" height="8.9" fill="#000"/>
<text x="663.30" y="54.74" font-size="9" fill="#fff" font-weight="bold" textLength="33.20" lengthAdjust="spacingAndGlyphs" >59.5600</text>
<rect x="663" y="58.4" width="32.6" height="8.8" fill="#f01010"/>
<text x="663.30" y="66.04" font-size="9" fill="#5a0a0a" font-weight="bold" textLength="33.20" lengthAdjust="spacingAndGlyphs" >58.3374</text>
<rect x="663" y="200.6" width="32.6" height="8.6" fill="#22ee22"/>
<text x="663.20" y="207.78" font-size="8" fill="#0a2a0a" font-weight="bold" textLength="33.80" lengthAdjust="spacingAndGlyphs" >43.70315</text>
<rect x="666.6" y="387.7" width="14" height="6" fill="#fff" stroke="#3a3a3a" stroke-width="0.7"/>
<text x="667.30" y="393.03" font-size="6.2" fill="#222" textLength="12.90" lengthAdjust="spacingAndGlyphs" >Auto</text>
<path d="M662.5 390.7 h3.6" stroke="#555" stroke-width="0.8"/>
<rect x="666.6" y="436.4" width="14" height="6" fill="#fff" stroke="#3a3a3a" stroke-width="0.7"/>
<text x="667.30" y="441.73" font-size="6.2" fill="#222" textLength="12.90" lengthAdjust="spacingAndGlyphs" >Auto</text>
<path d="M662.5 439.4 h3.6" stroke="#555" stroke-width="0.8"/>
<rect x="662.6" y="394.6" width="31.9" height="3.6" fill="#ea3c10"/>
<rect x="679.3" y="398.7" width="6.5" height="3.2" fill="#8a96b0"/><rect x="686.5" y="398.7" width="7.5" height="3.2" fill="#505058"/>
<text x="665.40" y="409.15" font-size="6.8" fill="#333" textLength="15.40" lengthAdjust="spacingAndGlyphs" >Value</text>
<text x="665.40" y="416.35" font-size="6.8" fill="#333" textLength="12.60" lengthAdjust="spacingAndGlyphs" >USD</text>
<text x="663.20" y="398.27" font-size="5.2" fill="#7a1a08" textLength="16.80" lengthAdjust="spacingAndGlyphs" >91.500</text>
<path d="M662.5 422.4 h2.6" stroke="#666" stroke-width="0.8"/>
<text x="666.00" y="424.56" font-size="6" fill="#555" textLength="6.00" lengthAdjust="spacingAndGlyphs" >40</text>
<rect x="9" y="406" width="653" height="1" fill="#c67ade"/>
<rect x="9" y="430" width="653" height="1" fill="#c67ade"/>
<path d="M8.0 404.0C8.5 404.2 10.0 404.3 11.1 405.0C12.2 405.7 13.0 406.2 14.3 408.1C15.6 410.0 17.4 414.1 19.0 416.6C20.6 419.1 21.9 420.9 23.7 422.9C25.5 424.9 28.2 427.3 30.0 428.5C31.8 429.7 33.1 430.0 34.7 430.1C36.3 430.2 37.8 430.0 39.4 429.2C41.0 428.4 42.6 426.7 44.2 425.1C45.8 423.5 47.6 420.8 48.9 419.7C50.2 418.6 50.6 418.8 52.0 418.5C53.4 418.2 55.3 417.9 57.0 418.0C58.7 418.1 60.5 418.4 62.0 419.0C63.5 419.6 64.7 420.5 66.0 421.5C67.3 422.5 68.5 423.8 70.0 425.0C71.5 426.2 73.3 427.6 75.0 428.8C76.7 430.0 78.2 431.5 80.0 432.0C81.8 432.5 83.9 433.0 86.0 432.0C88.1 431.0 90.3 429.9 92.5 426.0C94.7 422.1 97.0 412.5 99.2 408.7C101.4 404.9 103.4 404.4 105.5 403.4C107.6 402.3 109.7 402.4 111.8 402.4C113.9 402.4 115.9 403.3 118.0 403.4C120.1 403.5 122.6 403.1 124.4 403.1C126.2 403.1 127.7 402.5 129.0 403.4C130.3 404.3 131.1 406.5 132.2 408.7C133.3 410.9 134.1 414.0 135.4 416.6C136.7 419.2 138.5 422.3 140.1 424.4C141.7 426.5 143.2 428.2 144.8 429.2C146.4 430.1 147.9 430.9 149.5 430.1C151.1 429.3 152.6 426.6 154.2 424.4C155.8 422.1 157.4 419.0 159.0 416.6C160.6 414.2 162.1 411.6 163.7 410.3C165.3 409.0 166.8 408.3 168.4 408.7C170.0 409.1 171.5 410.8 173.1 412.5C174.7 414.2 176.5 417.6 177.8 418.8C179.1 420.0 179.7 420.3 181.0 419.7C182.3 419.1 184.1 416.3 185.7 415.0C187.3 413.7 188.6 413.2 190.4 411.9C192.2 410.6 194.6 408.3 196.7 407.2C198.8 406.1 200.4 405.5 203.0 405.0C205.6 404.5 209.3 404.3 212.4 404.0C215.5 403.7 219.7 403.4 221.8 403.1C223.9 402.8 223.9 402.2 225.0 402.4C226.1 402.5 226.8 401.9 228.1 404.0C229.4 406.1 231.3 411.7 232.9 415.0C234.5 418.3 235.8 422.0 237.6 423.8C239.4 425.6 242.1 426.0 243.9 426.0C245.7 426.0 246.8 425.2 248.6 423.8C250.4 422.4 253.1 419.4 254.9 417.5C256.7 415.6 258.0 414.1 259.6 412.5C261.2 410.9 262.7 407.9 264.3 407.8C265.9 407.7 267.2 410.2 269.0 411.9C270.8 413.6 273.2 416.2 275.3 418.2C277.4 420.2 279.8 422.5 281.6 423.8C283.4 425.1 284.5 425.9 286.3 426.0C288.1 426.1 290.5 425.4 292.6 424.4C294.7 423.3 297.1 420.5 298.9 419.7C300.7 418.9 302.0 419.4 303.6 419.7C305.2 420.0 306.7 420.5 308.3 421.3C309.9 422.1 311.5 423.1 313.1 424.4C314.7 425.7 316.5 428.2 317.8 429.2C319.1 430.1 319.8 430.4 320.9 430.1C321.9 429.8 322.8 429.3 324.1 427.6C325.4 425.9 327.2 421.9 328.8 419.7C330.4 417.5 331.9 415.1 333.5 414.4C335.1 413.7 336.6 416.0 338.2 415.6C339.8 415.2 341.3 413.6 342.9 411.9C344.5 410.2 346.0 407.3 347.6 405.6C349.2 403.9 350.6 402.8 352.4 401.8C354.2 400.9 356.5 399.9 358.6 399.9C360.7 399.9 362.8 400.9 364.9 401.8C367.0 402.7 369.4 404.1 371.2 405.0C373.0 405.9 374.3 407.0 375.9 407.2C377.5 407.4 379.1 405.7 380.7 406.2C382.3 406.7 383.8 409.2 385.4 410.3C387.0 411.4 388.3 411.3 390.1 412.5C391.9 413.7 394.6 417.4 396.4 417.5C398.2 417.6 399.5 414.8 401.1 413.4C402.7 412.0 404.2 410.3 405.8 409.4C407.4 408.5 408.9 408.3 410.5 408.1C412.1 407.9 413.7 408.2 415.3 408.1C416.9 408.0 418.2 407.6 420.0 407.2C421.8 406.8 424.2 406.2 426.3 405.6C428.4 405.0 430.7 403.3 432.5 403.4C434.3 403.5 435.7 404.0 437.3 406.2C438.9 408.4 440.4 414.2 442.0 416.6C443.6 419.0 444.9 419.1 446.7 420.7C448.5 422.3 450.9 424.5 453.0 426.0C455.1 427.5 457.2 428.9 459.3 429.8C461.4 430.7 463.8 431.3 465.6 431.4C467.4 431.4 469.0 430.6 470.3 430.1C471.6 429.6 472.1 428.4 473.4 428.2C474.7 428.0 476.9 429.3 478.2 429.2C479.5 429.1 480.0 429.4 481.3 427.6C482.6 425.8 484.4 420.7 486.0 418.2C487.6 415.7 489.1 413.7 490.7 412.5C492.3 411.3 493.9 410.9 495.5 411.2C497.1 411.5 498.6 413.7 500.2 414.4C501.8 415.1 503.3 416.0 504.9 415.6C506.5 415.2 507.8 412.7 509.6 411.9C511.4 411.1 513.8 411.9 515.9 410.9C518.0 409.8 520.1 407.0 522.2 405.6C524.3 404.2 526.4 402.9 528.5 402.4C530.6 401.9 533.0 402.5 534.8 402.4C536.6 402.3 538.2 401.3 539.5 401.8C540.8 402.3 541.6 403.4 542.6 405.6C543.6 407.8 544.5 411.9 545.8 415.0C547.1 418.1 548.7 421.8 550.5 424.4C552.3 427.0 554.7 429.9 556.8 430.7C558.9 431.5 561.3 430.0 563.1 429.2C564.9 428.4 566.2 427.8 567.8 426.0C569.4 424.2 570.9 419.8 572.5 418.2C574.1 416.6 575.6 416.2 577.2 416.6C578.8 417.0 580.3 419.6 581.9 420.7C583.5 421.8 585.4 423.1 586.7 422.9C588.0 422.7 588.5 421.3 589.8 419.7C591.1 418.1 592.7 415.0 594.5 413.4C596.3 411.8 599.0 411.6 600.8 410.3C602.6 409.0 603.7 407.0 605.5 405.6C607.3 404.2 610.0 402.3 611.8 401.8C613.6 401.3 614.9 402.1 616.5 402.4C618.1 402.7 619.6 403.5 621.2 403.4C622.8 403.3 624.4 402.2 625.9 401.8C627.4 401.4 629.3 401.0 630.0 400.9" fill="none" stroke="#e08a68" stroke-width="0.8"/>
<rect x="21.2" y="402.4" width="65.9" height="6.4" fill="#ffffff"/>
<rect x="21.2" y="416.5" width="46.4" height="6.4" fill="#ffffff"/>
<text x="21.20" y="400.46" font-size="6.0" fill="#b060d8" textLength="110.40" lengthAdjust="spacingAndGlyphs" xml:space="preserve"><tspan fill="#b060d8">Stoch6, INTC.O, Trade Price,  12, 3, Simple, 3</tspan></text>
<text x="22.20" y="407.76" font-size="6.0" fill="#b060d8" textLength="64.40" lengthAdjust="spacingAndGlyphs" xml:space="preserve"><tspan fill="#b060d8">1/10/2020, 91.045, </tspan><tspan fill="#78c848">93.443</tspan></text>
<text x="21.20" y="414.66" font-size="6.0" fill="#b060d8" textLength="61.60" lengthAdjust="spacingAndGlyphs" xml:space="preserve"><tspan fill="#e06a40">MMA, Stoch6(INTC.O),  3</tspan></text>
<text x="22.20" y="421.86" font-size="6.0" fill="#b060d8" textLength="44.90" lengthAdjust="spacingAndGlyphs" xml:space="preserve"><tspan fill="#e06a40">1/10/2020, 91.500</tspan></text>
<path d="M18.5 442 v1.8" stroke="#777" stroke-width="0.6"/>
<text x="18.50" y="450.62" font-size="5.6" fill="#5a5a5a" text-anchor="middle" >F</text>
<path d="M28.0 442 v1.8" stroke="#777" stroke-width="0.6"/>
<text x="28.01" y="450.62" font-size="5.6" fill="#5a5a5a" text-anchor="middle" >M</text>
<path d="M37.5 442 v1.8" stroke="#777" stroke-width="0.6"/>
<text x="37.51" y="450.62" font-size="5.6" fill="#5a5a5a" text-anchor="middle" >A</text>
<path d="M47.0 442 v1.8" stroke="#777" stroke-width="0.6"/>
<text x="47.02" y="450.62" font-size="5.6" fill="#5a5a5a" text-anchor="middle" >M</text>
<path d="M58.9 442 v1.8" stroke="#777" stroke-width="0.6"/>
<text x="58.90" y="450.62" font-size="5.6" fill="#5a5a5a" text-anchor="middle" >J</text>
<path d="M68.4 442 v1.8" stroke="#777" stroke-width="0.6"/>
<text x="68.41" y="450.62" font-size="5.6" fill="#5a5a5a" text-anchor="middle" >J</text>
<path d="M80.3 442 v1.8" stroke="#777" stroke-width="0.6"/>
<text x="80.29" y="450.62" font-size="5.6" fill="#5a5a5a" text-anchor="middle" >A</text>
<path d="M89.8 442 v1.8" stroke="#777" stroke-width="0.6"/>
<text x="89.80" y="450.62" font-size="5.6" fill="#5a5a5a" text-anchor="middle" >S</text>
<path d="M99.3 442 v1.8" stroke="#777" stroke-width="0.6"/>
<text x="99.30" y="450.62" font-size="5.6" fill="#5a5a5a" text-anchor="middle" >O</text>
<path d="M111.2 442 v1.8" stroke="#777" stroke-width="0.6"/>
<text x="111.19" y="450.62" font-size="5.6" fill="#5a5a5a" text-anchor="middle" >N</text>
<path d="M120.7 442 v1.8" stroke="#777" stroke-width="0.6"/>
<text x="120.69" y="450.62" font-size="5.6" fill="#5a5a5a" text-anchor="middle" >D</text>
<path d="M130.2 442 v1.8" stroke="#777" stroke-width="0.6"/>
<text x="130.20" y="450.62" font-size="5.6" fill="#5a5a5a" text-anchor="middle" >J</text>
<path d="M142.1 442 v1.8" stroke="#777" stroke-width="0.6"/>
<text x="142.08" y="450.62" font-size="5.6" fill="#5a5a5a" text-anchor="middle" >F</text>
<path d="M151.6 442 v1.8" stroke="#777" stroke-width="0.6"/>
<text x="151.59" y="450.62" font-size="5.6" fill="#5a5a5a" text-anchor="middle" >M</text>
<path d="M161.1 442 v1.8" stroke="#777" stroke-width="0.6"/>
<text x="161.10" y="450.62" font-size="5.6" fill="#5a5a5a" text-anchor="middle" >A</text>
<path d="M173.0 442 v1.8" stroke="#777" stroke-width="0.6"/>
<text x="172.98" y="450.62" font-size="5.6" fill="#5a5a5a" text-anchor="middle" >M</text>
<path d="M182.5 442 v1.8" stroke="#777" stroke-width="0.6"/>
<text x="182.49" y="450.62" font-size="5.6" fill="#5a5a5a" text-anchor="middle" >J</text>
<path d="M192.0 442 v1.8" stroke="#777" stroke-width="0.6"/>
<text x="191.99" y="450.62" font-size="5.6" fill="#5a5a5a" text-anchor="middle" >J</text>
<path d="M203.9 442 v1.8" stroke="#777" stroke-width="0.6"/>
<text x="203.87" y="450.62" font-size="5.6" fill="#5a5a5a" text-anchor="middle" >A</text>
<path d="M213.4 442 v1.8" stroke="#777" stroke-width="0.6"/>
<text x="213.38" y="450.62" font-size="5.6" fill="#5a5a5a" text-anchor="middle" >S</text>
<path d="M225.3 442 v1.8" stroke="#777" stroke-width="0.6"/>
<text x="225.26" y="450.62" font-size="5.6" fill="#5a5a5a" text-anchor="middle" >O</text>
<path d="M234.8 442 v1.8" stroke="#777" stroke-width="0.6"/>
<text x="234.77" y="450.62" font-size="5.6" fill="#5a5a5a" text-anchor="middle" >N</text>
<path d="M244.3 442 v1.8" stroke="#777" stroke-width="0.6"/>
<text x="244.28" y="450.62" font-size="5.6" fill="#5a5a5a" text-anchor="middle" >D</text>
<path d="M256.2 442 v1.8" stroke="#777" stroke-width="0.6"/>
<text x="256.16" y="450.62" font-size="5.6" fill="#5a5a5a" text-anchor="middle" >J</text>
<path d="M265.7 442 v1.8" stroke="#777" stroke-width="0.6"/>
<text x="265.67" y="450.62" font-size="5.6" fill="#5a5a5a" text-anchor="middle" >F</text>
<path d="M275.2 442 v1.8" stroke="#777" stroke-width="0.6"/>
<text x="275.17" y="450.62" font-size="5.6" fill="#5a5a5a" text-anchor="middle" >M</text>
<path d="M287.1 442 v1.8" stroke="#777" stroke-width="0.6"/>
<text x="287.06" y="450.62" font-size="5.6" fill="#5a5a5a" text-anchor="middle" >A</text>
<path d="M296.6 442 v1.8" stroke="#777" stroke-width="0.6"/>
<text x="296.56" y="450.62" font-size="5.6" fill="#5a5a5a" text-anchor="middle" >M</text>
<path d="M306.1 442 v1.8" stroke="#777" stroke-width="0.6"/>
<text x="306.07" y="450.62" font-size="5.6" fill="#5a5a5a" text-anchor="middle" >J</text>
<path d="M318.0 442 v1.8" stroke="#777" stroke-width="0.6"/>
<text x="317.95" y="450.62" font-size="5.6" fill="#5a5a5a" text-anchor="middle" >J</text>
<path d="M327.5 442 v1.8" stroke="#777" stroke-width="0.6"/>
<text x="327.46" y="450.62" font-size="5.6" fill="#5a5a5a" text-anchor="middle" >A</text>
<path d="M337.0 442 v1.8" stroke="#777" stroke-width="0.6"/>
<text x="336.96" y="450.62" font-size="5.6" fill="#5a5a5a" text-anchor="middle" >S</text>
<path d="M348.8 442 v1.8" stroke="#777" stroke-width="0.6"/>
<text x="348.85" y="450.62" font-size="5.6" fill="#5a5a5a" text-anchor="middle" >O</text>
<path d="M358.4 442 v1.8" stroke="#777" stroke-width="0.6"/>
<text x="358.35" y="450.62" font-size="5.6" fill="#5a5a5a" text-anchor="middle" >N</text>
<path d="M367.9 442 v1.8" stroke="#777" stroke-width="0.6"/>
<text x="367.86" y="450.62" font-size="5.6" fill="#5a5a5a" text-anchor="middle" >D</text>
<path d="M379.7 442 v1.8" stroke="#777" stroke-width="0.6"/>
<text x="379.74" y="450.62" font-size="5.6" fill="#5a5a5a" text-anchor="middle" >J</text>
<path d="M389.2 442 v1.8" stroke="#777" stroke-width="0.6"/>
<text x="389.25" y="450.62" font-size="5.6" fill="#5a5a5a" text-anchor="middle" >F</text>
<path d="M398.8 442 v1.8" stroke="#777" stroke-width="0.6"/>
<text x="398.76" y="450.62" font-size="5.6" fill="#5a5a5a" text-anchor="middle" >M</text>
<path d="M410.6 442 v1.8" stroke="#777" stroke-width="0.6"/>
<text x="410.64" y="450.62" font-size="5.6" fill="#5a5a5a" text-anchor="middle" >A</text>
<path d="M420.1 442 v1.8" stroke="#777" stroke-width="0.6"/>
<text x="420.15" y="450.62" font-size="5.6" fill="#5a5a5a" text-anchor="middle" >M</text>
<path d="M429.7 442 v1.8" stroke="#777" stroke-width="0.6"/>
<text x="429.65" y="450.62" font-size="5.6" fill="#5a5a5a" text-anchor="middle" >J</text>
<path d="M441.5 442 v1.8" stroke="#777" stroke-width="0.6"/>
<text x="441.53" y="450.62" font-size="5.6" fill="#5a5a5a" text-anchor="middle" >J</text>
<path d="M451.0 442 v1.8" stroke="#777" stroke-width="0.6"/>
<text x="451.04" y="450.62" font-size="5.6" fill="#5a5a5a" text-anchor="middle" >A</text>
<path d="M462.9 442 v1.8" stroke="#777" stroke-width="0.6"/>
<text x="462.92" y="450.62" font-size="5.6" fill="#5a5a5a" text-anchor="middle" >S</text>
<path d="M472.4 442 v1.8" stroke="#777" stroke-width="0.6"/>
<text x="472.43" y="450.62" font-size="5.6" fill="#5a5a5a" text-anchor="middle" >O</text>
<path d="M481.9 442 v1.8" stroke="#777" stroke-width="0.6"/>
<text x="481.94" y="450.62" font-size="5.6" fill="#5a5a5a" text-anchor="middle" >N</text>
<path d="M493.8 442 v1.8" stroke="#777" stroke-width="0.6"/>
<text x="493.82" y="450.62" font-size="5.6" fill="#5a5a5a" text-anchor="middle" >D</text>
<path d="M503.3 442 v1.8" stroke="#777" stroke-width="0.6"/>
<text x="503.33" y="450.62" font-size="5.6" fill="#5a5a5a" text-anchor="middle" >J</text>
<path d="M512.8 442 v1.8" stroke="#777" stroke-width="0.6"/>
<text x="512.83" y="450.62" font-size="5.6" fill="#5a5a5a" text-anchor="middle" >F</text>
<path d="M522.3 442 v1.8" stroke="#777" stroke-width="0.6"/>
<text x="522.34" y="450.62" font-size="5.6" fill="#5a5a5a" text-anchor="middle" >M</text>
<path d="M534.2 442 v1.8" stroke="#777" stroke-width="0.6"/>
<text x="534.22" y="450.62" font-size="5.6" fill="#5a5a5a" text-anchor="middle" >A</text>
<path d="M543.7 442 v1.8" stroke="#777" stroke-width="0.6"/>
<text x="543.73" y="450.62" font-size="5.6" fill="#5a5a5a" text-anchor="middle" >M</text>
<path d="M555.6 442 v1.8" stroke="#777" stroke-width="0.6"/>
<text x="555.61" y="450.62" font-size="5.6" fill="#5a5a5a" text-anchor="middle" >J</text>
<path d="M565.1 442 v1.8" stroke="#777" stroke-width="0.6"/>
<text x="565.12" y="450.62" font-size="5.6" fill="#5a5a5a" text-anchor="middle" >J</text>
<path d="M574.6 442 v1.8" stroke="#777" stroke-width="0.6"/>
<text x="574.62" y="450.62" font-size="5.6" fill="#5a5a5a" text-anchor="middle" >A</text>
<path d="M586.5 442 v1.8" stroke="#777" stroke-width="0.6"/>
<text x="586.51" y="450.62" font-size="5.6" fill="#5a5a5a" text-anchor="middle" >S</text>
<path d="M596.0 442 v1.8" stroke="#777" stroke-width="0.6"/>
<text x="596.01" y="450.62" font-size="5.6" fill="#5a5a5a" text-anchor="middle" >O</text>
<path d="M605.5 442 v1.8" stroke="#777" stroke-width="0.6"/>
<text x="605.52" y="450.62" font-size="5.6" fill="#5a5a5a" text-anchor="middle" >N</text>
<path d="M617.4 442 v1.8" stroke="#777" stroke-width="0.6"/>
<text x="617.40" y="450.62" font-size="5.6" fill="#5a5a5a" text-anchor="middle" >D</text>
<path d="M626.9 442 v1.8" stroke="#777" stroke-width="0.6"/>
<text x="626.91" y="450.62" font-size="5.6" fill="#5a5a5a" text-anchor="middle" >J</text>
<path d="M638.8 442 v1.8" stroke="#777" stroke-width="0.6"/>
<text x="638.79" y="450.62" font-size="5.6" fill="#5a5a5a" text-anchor="middle" >F</text>
<path d="M648.3 442 v1.8" stroke="#777" stroke-width="0.6"/>
<text x="648.30" y="450.62" font-size="5.6" fill="#5a5a5a" text-anchor="middle" >M</text>
<path d="M657.8 442 v1.8" stroke="#777" stroke-width="0.6"/>
<text x="657.81" y="450.62" font-size="5.6" fill="#5a5a5a" text-anchor="middle" >A</text>
<text x="11.61" y="457.49" font-size="5.8" fill="#454545" font-weight="bold" textLength="22.90" lengthAdjust="spacingAndGlyphs" >Q1 2015</text>
<rect x="37.2" y="452.3" width="0.6" height="6.2" fill="#777"/>
<text x="41.51" y="457.49" font-size="5.8" fill="#454545" font-weight="bold" textLength="22.90" lengthAdjust="spacingAndGlyphs" >Q2 2015</text>
<rect x="68.1" y="452.3" width="0.6" height="6.2" fill="#777"/>
<text x="72.41" y="457.49" font-size="5.8" fill="#454545" font-weight="bold" textLength="22.90" lengthAdjust="spacingAndGlyphs" >Q3 2015</text>
<rect x="99.0" y="452.3" width="0.6" height="6.2" fill="#777"/>
<text x="103.30" y="457.49" font-size="5.8" fill="#454545" font-weight="bold" textLength="22.90" lengthAdjust="spacingAndGlyphs" >Q4 2015</text>
<rect x="129.9" y="452.3" width="0.6" height="6.2" fill="#777"/>
<text x="134.20" y="457.49" font-size="5.8" fill="#454545" font-weight="bold" textLength="22.90" lengthAdjust="spacingAndGlyphs" >Q1 2016</text>
<rect x="160.8" y="452.3" width="0.6" height="6.2" fill="#777"/>
<text x="165.09" y="457.49" font-size="5.8" fill="#454545" font-weight="bold" textLength="22.90" lengthAdjust="spacingAndGlyphs" >Q2 2016</text>
<rect x="191.7" y="452.3" width="0.6" height="6.2" fill="#777"/>
<text x="197.18" y="457.49" font-size="5.8" fill="#454545" font-weight="bold" textLength="22.90" lengthAdjust="spacingAndGlyphs" >Q3 2016</text>
<rect x="225.0" y="452.3" width="0.6" height="6.2" fill="#777"/>
<text x="229.26" y="457.49" font-size="5.8" fill="#454545" font-weight="bold" textLength="22.90" lengthAdjust="spacingAndGlyphs" >Q4 2016</text>
<rect x="255.9" y="452.3" width="0.6" height="6.2" fill="#777"/>
<text x="260.16" y="457.49" font-size="5.8" fill="#454545" font-weight="bold" textLength="22.90" lengthAdjust="spacingAndGlyphs" >Q1 2017</text>
<rect x="286.8" y="452.3" width="0.6" height="6.2" fill="#777"/>
<text x="291.05" y="457.49" font-size="5.8" fill="#454545" font-weight="bold" textLength="22.90" lengthAdjust="spacingAndGlyphs" >Q2 2017</text>
<rect x="317.7" y="452.3" width="0.6" height="6.2" fill="#777"/>
<text x="321.95" y="457.49" font-size="5.8" fill="#454545" font-weight="bold" textLength="22.90" lengthAdjust="spacingAndGlyphs" >Q3 2017</text>
<rect x="348.5" y="452.3" width="0.6" height="6.2" fill="#777"/>
<text x="352.85" y="457.49" font-size="5.8" fill="#454545" font-weight="bold" textLength="22.90" lengthAdjust="spacingAndGlyphs" >Q4 2017</text>
<rect x="379.4" y="452.3" width="0.6" height="6.2" fill="#777"/>
<text x="383.74" y="457.49" font-size="5.8" fill="#454545" font-weight="bold" textLength="22.90" lengthAdjust="spacingAndGlyphs" >Q1 2018</text>
<rect x="410.3" y="452.3" width="0.6" height="6.2" fill="#777"/>
<text x="414.64" y="457.49" font-size="5.8" fill="#454545" font-weight="bold" textLength="22.90" lengthAdjust="spacingAndGlyphs" >Q2 2018</text>
<rect x="441.2" y="452.3" width="0.6" height="6.2" fill="#777"/>
<text x="445.53" y="457.49" font-size="5.8" fill="#454545" font-weight="bold" textLength="22.90" lengthAdjust="spacingAndGlyphs" >Q3 2018</text>
<rect x="472.1" y="452.3" width="0.6" height="6.2" fill="#777"/>
<text x="476.43" y="457.49" font-size="5.8" fill="#454545" font-weight="bold" textLength="22.90" lengthAdjust="spacingAndGlyphs" >Q4 2018</text>
<rect x="503.0" y="452.3" width="0.6" height="6.2" fill="#777"/>
<text x="507.32" y="457.49" font-size="5.8" fill="#454545" font-weight="bold" textLength="22.90" lengthAdjust="spacingAndGlyphs" >Q1 2019</text>
<rect x="533.9" y="452.3" width="0.6" height="6.2" fill="#777"/>
<text x="538.22" y="457.49" font-size="5.8" fill="#454545" font-weight="bold" textLength="22.90" lengthAdjust="spacingAndGlyphs" >Q2 2019</text>
<rect x="564.8" y="452.3" width="0.6" height="6.2" fill="#777"/>
<text x="569.12" y="457.49" font-size="5.8" fill="#454545" font-weight="bold" textLength="22.90" lengthAdjust="spacingAndGlyphs" >Q3 2019</text>
<rect x="595.7" y="452.3" width="0.6" height="6.2" fill="#777"/>
<text x="600.01" y="457.49" font-size="5.8" fill="#454545" font-weight="bold" textLength="22.90" lengthAdjust="spacingAndGlyphs" >Q4 2019</text>
<rect x="626.6" y="452.3" width="0.6" height="6.2" fill="#777"/>
<text x="630.91" y="457.49" font-size="5.8" fill="#454545" font-weight="bold" textLength="22.90" lengthAdjust="spacingAndGlyphs" >Q1 2020</text>
<rect x="657.5" y="452.3" width="0.6" height="6.2" fill="#777"/>
<rect x="2.8" y="458.6" width="693.2" height="7.6" fill="#f2f2f2"/>
<rect x="19.7" y="458.8" width="631" height="7.2" fill="#c9c9c9"/>
<path d="M7.2 460.6 l-2.2 2 l2.2 2 M9.8 460.6 l-2.2 2 l2.2 2" stroke="#111" stroke-width="1.3" fill="none"/>
<path d="M16.4 460.8 l-1.9 1.8 l1.9 1.8" stroke="#222" stroke-width="1" fill="none"/>
<rect x="615.7" y="458.8" width="37.2" height="7.2" fill="#d6d6d6"/>
<rect x="652.9" y="458.8" width="42.6" height="7.2" fill="#ececec"/>
<rect x="685.7" y="459.2" width="8.6" height="7.1" fill="#d2d2d2"/>
<text x="616.60" y="464.92" font-size="5.6" fill="#1a1a1a" textLength="35.40" lengthAdjust="spacingAndGlyphs" >275 Data Period</text>
<path d="M681.4 460.8 l1.9 1.8 l-1.9 1.8" stroke="#222" stroke-width="1" fill="none"/>
<path d="M688.4 460.6 l2.2 2 l-2.2 2 M691 460.6 l2.2 2 l-2.2 2" stroke="#111" stroke-width="1.3" fill="none"/>
</svg>
</body></html>
